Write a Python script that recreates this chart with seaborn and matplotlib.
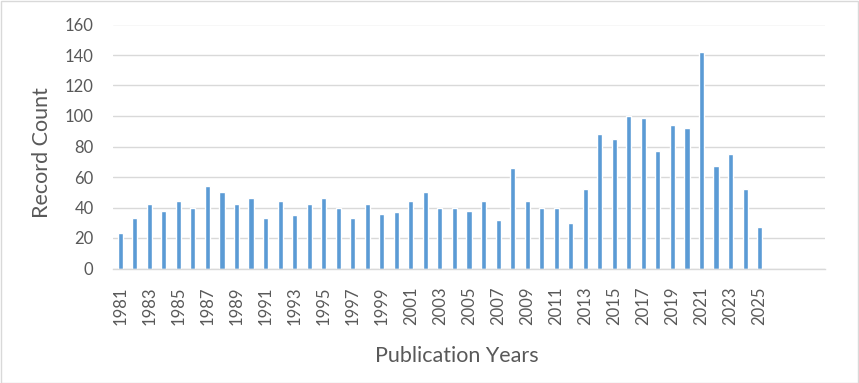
import matplotlib
matplotlib.use("Agg")
import matplotlib.pyplot as plt
import seaborn as sns
import pandas as pd
from matplotlib.patches import Rectangle

years = [str(y) for y in range(1981, 2026)]
counts = [23, 33, 42, 38, 44, 40, 54, 50, 42, 46,
          33, 44, 35, 42, 46, 40, 33, 42, 36, 37,
          44, 50, 40, 40, 38, 44, 32, 66, 44, 40,
          40, 30, 52, 88, 85, 100, 99, 77, 94, 92,
          142, 67, 75, 52, 27]
extra_slots = ["2026", "2027", "2028", "2029"]
y_ticks = [0, 20, 40, 60, 80, 100, 120, 140, 160]

df = pd.DataFrame({"Year": years, "Count": counts})
order = years + extra_slots

sns.set_theme(style="white")
plt.rcParams['font.family'] = ['Lato', 'DejaVu Sans']

W, H = 859, 383
fig = plt.figure(figsize=(W/100, H/100), dpi=100)
x0, x1, y0, y1 = 113, 825, 24.5, 268.5
ax = fig.add_axes([x0/W, 1 - y1/H, (x1-x0)/W, (y1-y0)/H])

sns.barplot(data=df, x="Year", y="Count", order=order, color="#5B9BD5",
            width=0.35, saturation=1, ax=ax, zorder=3)

ax.set_ylim(0, 160)
ax.set_yticks(y_ticks)
ax.set_xlim(-0.5, len(order) - 0.5)
ax.yaxis.grid(True, color="#D9D9D9", linewidth=1, zorder=0)
ax.set_axisbelow(True)

labels = [y if (i % 2 == 0 and y in years) else "" for i, y in enumerate(order)]
ax.set_xticks(range(len(order)))
ax.set_xticklabels(labels, rotation=90, fontsize=12, color="#595959")
ax.tick_params(axis='y', labelsize=12, labelcolor="#595959", length=0, pad=14)
ax.tick_params(axis='x', length=0, pad=13)

for s in ["top", "right", "left"]:
    ax.spines[s].set_visible(False)
ax.spines["bottom"].set_color("#D9D9D9")
ax.spines["bottom"].set_linewidth(1)
ax.spines["bottom"].set_zorder(4)

ax.set_xlabel("Publication Years", fontsize=15.5, color="#595959")
ax.xaxis.label.set_va("baseline")
ax.xaxis.set_label_coords((457 - x0) / (x1 - x0), (y1 - 362) / (y1 - y0))
ax.set_ylabel("Record Count", fontsize=15.5, color="#595959")
ax.yaxis.label.set_va("baseline")
ax.yaxis.set_label_coords((48 - x0) / (x1 - x0), (y1 - 152.5) / (y1 - y0))

fig.patches.append(Rectangle((0.5/W, 0.5/H), 1 - 1.5/W, 1 - 1.5/H,
                             transform=fig.transFigure, fill=False,
                             edgecolor="#D9D9D9", linewidth=1))

fig.savefig("out.png", dpi=100)
